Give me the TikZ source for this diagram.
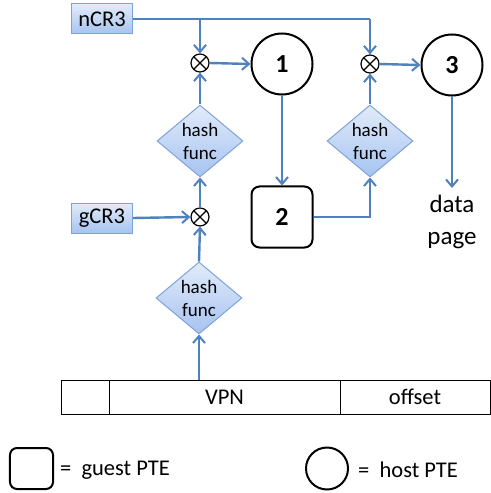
\documentclass[tikz,border=0pt]{standalone}
\usepackage{fontspec}
\setmainfont{Carlito}
\usetikzlibrary{shapes.geometric,arrows.meta}
\definecolor{linkblue}{HTML}{4F81BD}
\definecolor{boxedge}{HTML}{7EA3D7}
\definecolor{filltop}{HTML}{E2EBFA}
\definecolor{fillbot}{HTML}{A6C3F1}
\tikzset{
  x=1bp, y=-1bp,
  link/.style={draw=linkblue, line width=2.4bp, -{Straight Barb[length=7bp,width=12bp,line width=2bp]}},
  plainlink/.style={draw=linkblue, line width=2.4bp},
  regbox/.style={draw=boxedge, line width=1bp, top color=filltop, bottom color=fillbot,
    minimum width=61bp, minimum height=30bp, inner sep=0pt, font=\fontsize{22.5bp}{27bp}\selectfont},
  hashbox/.style={diamond, draw=boxedge, line width=1bp, top color=filltop, bottom color=fillbot,
    minimum width=86bp, minimum height=72bp, inner sep=0pt,
    label={[align=center, font=\fontsize{19bp}{23bp}\selectfont]center:hash\\func}},
  xorop/.style={circle, draw=black, line width=1.2bp, fill=white, minimum size=18bp, inner sep=0pt,
    path picture={\draw[line width=1.2bp] (path picture bounding box.north west) -- (path picture bounding box.south east)
      (path picture bounding box.north east) -- (path picture bounding box.south west);}},
  hostpte/.style={circle, draw=black, line width=2bp, minimum size=61bp, inner sep=0pt,
    font=\fontsize{26bp}{30bp}\selectfont\bfseries},
  guestpte/.style={draw=black, line width=2bp, rounded corners=8bp, minimum width=61bp, minimum height=61bp,
    inner sep=0pt, font=\fontsize{26bp}{30bp}\selectfont\bfseries},
  plaintext/.style={inner sep=0pt, font=\fontsize{22.5bp}{27bp}\selectfont},
  bigtext/.style={inner sep=0pt, font=\fontsize{25bp}{32bp}\selectfont},
  tablecell/.style={draw=black, line width=1bp, minimum height=34bp, inner sep=0pt,
    font=\fontsize{22.5bp}{27bp}\selectfont},
}
\begin{document}
\begin{tikzpicture}
\useasboundingbox (0,0) rectangle (491,493);
% registers
\node[regbox] (ncr) at (102,19) {nCR3};
\node[regbox] (gcr) at (102,218) {gCR3};
% xor ops
\node[xorop] (x1) at (200,63) {};
\node[xorop] (x2) at (370,64) {};
\node[xorop] (x3) at (200,217) {};
% hash functions
\node[hashbox] (h1) at (200,141) {};
\node[hashbox] (h2) at (370,141) {};
\node[hashbox] (h0) at (199,298) {};
% PTEs
\node[hostpte] (c1) at (282,64) {1};
\node[hostpte] (c3) at (452,65) {3};
\node[guestpte] (b2) at (282,217) {2};
\node[bigtext, align=center] (data) at (452,222) {data\\page};
\coordinate (dataTop) at (452,188);
% address table
\node[tablecell, minimum width=48bp] (t0) at (85,397) {};
\node[tablecell, minimum width=231bp] (tvpn) at (224.5,397) {VPN};
\node[tablecell, minimum width=150bp] (toff) at (415,397) {offset};
\coordinate (vpnTap) at (199,380);
% junctions
\coordinate (j1) at (200,19);
\coordinate (j2) at (370,19);
% connectors
\draw[plainlink] (ncr.east) -- (j2);
\draw[link] (j2) -- (x2.north);
\draw[link] (j1) -- (x1.north);
\draw[link] (x1.east) -- (c1.west);
\draw[link] (h1.north) -- (x1.south);
\draw[link] (x3.north) -- (h1.south);
\draw[link] (gcr.east) -- (x3.west);
\draw[link] (h0.north) -- (x3.south);
\draw[link] (vpnTap) -- (h0.south);
\draw[link] (c1.south) -- (b2.north);
\draw[link] (b2.east) -| (h2.south);
\draw[link] (h2.north) -- (x2.south);
\draw[link] (x2.east) -- (c3.west);
\draw[link] (c3.south) -- (dataTop);
% legend
\node[guestpte, minimum width=43bp, minimum height=41bp, rounded corners=7bp] (lg) at (31.5,468.5) {};
\node[plaintext, anchor=west] (lgt) at (60,470) {=\ \ guest PTE};
\node[hostpte, minimum size=42bp] (lh) at (327,468.5) {};
\node[plaintext, anchor=west] (lht) at (358,470) {=\ \ host PTE};
\end{tikzpicture}
\end{document}
